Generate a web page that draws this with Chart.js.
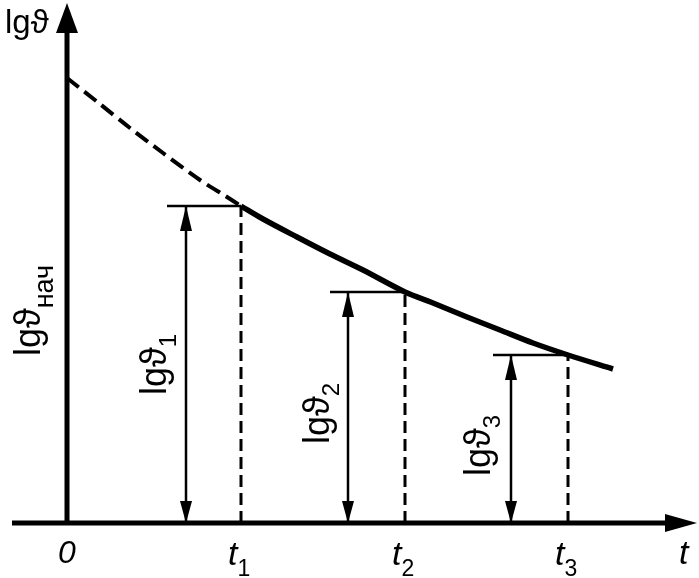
<!DOCTYPE html>
<html>
<head>
<meta charset="utf-8">
<script src="https://cdn.jsdelivr.net/npm/chart.js@4.4.1/dist/chart.umd.min.js"></script>
<style>
  html, body { margin: 0; padding: 0; background: #fff; }
  canvas { display: block; }
</style>
</head>
<body>
<canvas id="chart" width="699" height="578"></canvas>
<script>
// curve lg(theta) vs t, dashed part is the extrapolation to t = 0
const curveDashX = [0, 33, 63, 96, 133, 160, 174];
const curveDashY = [445, 419, 395, 370, 343, 326, 317];
const curveSolidX = [174, 196, 230, 263, 296, 338, 366, 400, 433, 466, 501, 546];
const curveSolidY = [317, 304, 286, 269, 253, 231, 220, 206, 193, 180, 168, 154];

// t1, t2, t3 and the lg(theta) value read at each
const tMarks = [174, 338, 501];
const tLevels = [317, 231, 168];
const levelStart = [100, 263, 426];
const arrowX = [119, 281, 444];
const tSubs = ['1', '2', '3'];

const FONT = '"Liberation Sans", Arial, "DejaVu Sans", sans-serif';

function pts(xs, ys) {
    return xs.map((x, i) => ({ x: x, y: ys[i] }));
}

function lineSet(data, width, dash) {
    return {
        data: data,
        showLine: true,
        borderColor: '#000',
        borderWidth: width,
        borderDash: dash || [],
        pointRadius: 0,
        fill: false,
        clip: false,
        tension: 0
    };
}

const datasets = [];
// axes
datasets.push(lineSet([{ x: 0, y: 0 }, { x: 0, y: 492 }], 5));
datasets.push(lineSet([{ x: -55, y: 0 }, { x: 600, y: 0 }], 5));
// curve
const dashed = lineSet(pts(curveDashX, curveDashY), 4, [15, 7]);
dashed.tension = 0.3;
datasets.push(dashed);
const solid = lineSet(pts(curveSolidX, curveSolidY), 5.5);
solid.tension = 0.3;
datasets.push(solid);
// verticals, levels, dimension arrows
tMarks.forEach((t, i) => {
    datasets.push(lineSet([{ x: t, y: 0 }, { x: t, y: tLevels[i] }], 3, [12, 6]));
    datasets.push(lineSet([{ x: levelStart[i], y: tLevels[i] }, { x: t, y: tLevels[i] }], 2.5));
    datasets.push(lineSet([{ x: arrowX[i], y: 0 }, { x: arrowX[i], y: tLevels[i] }], 2.5));
});

function tri(ctx, tx, ty, bx, by, hw) {
    const dx = tx - bx, dy = ty - by;
    const len = Math.hypot(dx, dy);
    const nx = -dy / len * hw, ny = dx / len * hw;
    ctx.beginPath();
    ctx.moveTo(tx, ty);
    ctx.lineTo(bx + nx, by + ny);
    ctx.lineTo(bx - nx, by - ny);
    ctx.closePath();
    ctx.fill();
}

function sub(ctx, x, y, main, small, mainSize, subSize, drop, italic) {
    ctx.font = (italic ? 'italic ' : '') + mainSize + 'px ' + FONT;
    ctx.fillText(main, x, y);
    const w = ctx.measureText(main).width;
    ctx.font = subSize + 'px ' + FONT;
    ctx.fillText(small, x + w, y + drop);
}

const decor = {
    id: 'decor',
    afterDatasetsDraw(chart) {
        const ctx = chart.ctx;
        const xs = chart.scales.x, ys = chart.scales.y;
        const px = v => xs.getPixelForValue(v);
        const py = v => ys.getPixelForValue(v);
        ctx.save();
        ctx.fillStyle = '#000';
        // axis arrowheads
        tri(ctx, px(0), py(520), px(0), py(490), 11);
        tri(ctx, px(630), py(0), px(598), py(0), 9);
        // dimension arrowheads
        arrowX.forEach((a, i) => {
            tri(ctx, px(a), py(tLevels[i]), px(a), py(tLevels[i] - 25), 6);
            tri(ctx, px(a), py(0), px(a), py(22), 6);
        });

        ctx.textAlign = 'left';
        ctx.textBaseline = 'alphabetic';
        // y axis title
        ctx.font = '33px ' + FONT;
        ctx.fillText('lgϑ', 5, 33);

        // rotated labels
        const rot = (x, y, fn) => {
            ctx.save();
            ctx.translate(x, y);
            ctx.rotate(-Math.PI / 2);
            fn();
            ctx.restore();
        };
        rot(40, 356, () => sub(ctx, 0, 0, 'lgϑ', 'нач', 36, 27, 13));
        const rotPos = [[166, 395], [329, 444], [490, 476]];
        tSubs.forEach((s, i) => {
            rot(rotPos[i][0], rotPos[i][1], () => sub(ctx, 0, 0, 'lgϑ', s, 36, 24, 10));
        });

        // x labels
        ctx.font = 'italic 32px ' + FONT;
        ctx.textAlign = 'center';
        ctx.fillText('0', px(0), 563);
        ctx.textAlign = 'left';
        tMarks.forEach((t, i) => {
            sub(ctx, px(t) - 13, 565, 't', tSubs[i], 34, 23, 11, true);
        });
        ctx.font = 'italic 34px ' + FONT;
        ctx.fillText('t', 679, 564);
        ctx.restore();
    }
};

new Chart(document.getElementById('chart'), {
    type: 'scatter',
    data: { datasets: datasets },
    options: {
        responsive: false,
        animation: false,
        layout: { padding: 0 },
        plugins: { legend: { display: false }, tooltip: { enabled: false } },
        scales: {
            x: { type: 'linear', display: false, min: -67, max: 632 },
            y: { type: 'linear', display: false, min: -55, max: 523 }
        }
    },
    plugins: [decor]
});
</script>
</body>
</html>
